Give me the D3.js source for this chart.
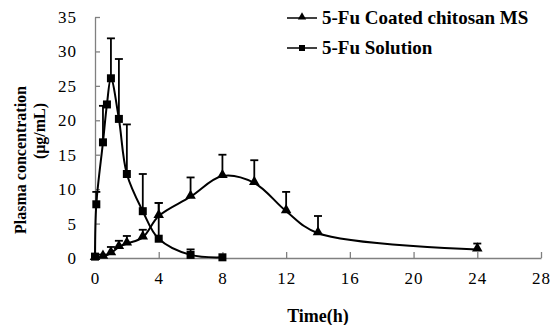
<!DOCTYPE html>
<html>
<head>
<meta charset="utf-8">
<script src="https://cdn.jsdelivr.net/npm/d3@7"></script>
<style>
  body { margin: 0; background: #fff; }
  text { font-family: "Liberation Serif", "Times New Roman", serif; }
</style>
</head>
<body>
<div id="chart"></div>
<script>
var width = 552,
    height = 325;

var margin = {top: 17, right: 11, bottom: 67, left: 95};

// 5-Fu Coated chitosan MS (triangles)
var msTime  = [0, 0.5, 1, 1.5, 2, 3, 4, 6, 8, 10, 12, 14, 24];
var msConc  = [0, 0.2, 0.7, 1.6, 2.1, 3.0, 6.1, 8.9, 11.9, 10.9, 6.8, 3.6, 1.25];
var msErr   = [0, 0.3, 0.9, 0.9, 1.1, 1.1, 1.9, 2.8, 3.1, 3.3, 2.8, 2.5, 0.85];

// 5-Fu Solution (squares)
var solTime = [0, 0.083, 0.5, 0.75, 1, 1.5, 2, 3, 4, 6, 8];
var solConc = [0.2, 7.8, 16.8, 22.3, 26.1, 20.2, 12.2, 6.8, 2.8, 0.45, 0.1];
var solErr  = [0, 1.8, 5.3, 0, 5.8, 8.7, 7.2, 5.4, 5.2, 0.8, 0];

var xTicks = [0, 4, 8, 12, 16, 20, 24, 28];
var yTicks = [0, 5, 10, 15, 20, 25, 30, 35];

var legendLabels = ["5-Fu Coated chitosan MS", "5-Fu Solution"];

var svg = d3.select("#chart")
  .append("svg")
  .attr("width", width)
  .attr("height", height);

var w = width - margin.left - margin.right,
    h = height - margin.top - margin.bottom;

var g = svg.append("g")
  .attr("transform", "translate(" + margin.left + "," + margin.top + ")");

var x = d3.scaleLinear().domain([0, 28]).range([0, w]);
var y = d3.scaleLinear().domain([0, 35]).range([h, 0]);

// axes, ticks inside
var xAxis = g.append("g")
  .attr("transform", "translate(0," + h + ")")
  .call(d3.axisBottom(x).tickValues(xTicks).tickSizeInner(-6).tickSizeOuter(0).tickPadding(14));
var yAxis = g.append("g")
  .call(d3.axisLeft(y).tickValues(yTicks).tickSizeInner(-5).tickSizeOuter(0).tickPadding(18));

[xAxis, yAxis].forEach(function(a){
  a.select(".domain").attr("stroke", "#808080").attr("stroke-width", 1.3);
  a.selectAll(".tick line").attr("stroke", "#808080").attr("stroke-width", 1.3);
  a.selectAll(".tick text")
    .attr("fill", "#000")
    .style("font-size", "17px")
    .style("letter-spacing", "1px")
    .style("font-family", "'Liberation Serif', serif");
});

function makeSeries(t, c, e){
  return t.map(function(d, i){ return {t: d, c: c[i], e: e[i]}; });
}
var msData = makeSeries(msTime, msConc, msErr);
var solData = makeSeries(solTime, solConc, solErr);

var line = d3.line()
  .x(function(d){ return x(d.t); })
  .y(function(d){ return y(d.c); })
  .curve(d3.curveCatmullRom.alpha(0.5));

// upper error bars only
function drawErr(data){
  var eb = g.append("g");
  data.filter(function(d){ return d.e > 0; }).forEach(function(d){
    eb.append("line")
      .attr("x1", x(d.t)).attr("x2", x(d.t))
      .attr("y1", y(d.c)).attr("y2", y(d.c + d.e))
      .attr("stroke", "#000").attr("stroke-width", 1.8);
    eb.append("line")
      .attr("x1", x(d.t) - 4).attr("x2", x(d.t) + 4)
      .attr("y1", y(d.c + d.e)).attr("y2", y(d.c + d.e))
      .attr("stroke", "#000").attr("stroke-width", 1.8);
  });
}

drawErr(msData);
drawErr(solData);

g.append("path").datum(msData)
  .attr("d", line).attr("fill", "none").attr("stroke", "#000").attr("stroke-width", 2);
g.append("path").datum(solData)
  .attr("d", line).attr("fill", "none").attr("stroke", "#000").attr("stroke-width", 2);

var tri = d3.symbol().type(d3.symbolTriangle).size(48);
var sq = d3.symbol().type(d3.symbolSquare).size(64);

g.selectAll(".tri").data(msData).enter().append("path")
  .attr("class", "tri")
  .attr("d", tri)
  .attr("transform", function(d){ return "translate(" + x(d.t) + "," + (y(d.c) - 1) + ")"; })
  .attr("fill", "#000");

g.selectAll(".sq").data(solData).enter().append("path")
  .attr("class", "sq")
  .attr("d", sq)
  .attr("transform", function(d){ return "translate(" + x(d.t) + "," + y(d.c) + ")"; })
  .attr("fill", "#000");

// axis titles
svg.append("text")
  .attr("x", margin.left + w / 2).attr("y", 322)
  .attr("text-anchor", "middle")
  .style("font-size", "18px").style("font-weight", "bold")
  .text("Time(h)");

svg.append("text")
  .attr("transform", "translate(26,160) rotate(-90)")
  .attr("text-anchor", "middle")
  .style("font-size", "16px").style("font-weight", "bold")
  .text("Plasma concentration");
svg.append("text")
  .attr("transform", "translate(45,131) rotate(-90)")
  .attr("text-anchor", "middle")
  .style("font-size", "16px").style("font-weight", "bold")
  .text("(\u03bcg/mL)");

// legend
var legend = svg.append("g");
legendLabels.forEach(function(lbl, i){
  var ly = 18 + i * 30;
  legend.append("line")
    .attr("x1", 287).attr("x2", 317).attr("y1", ly).attr("y2", ly)
    .attr("stroke", "#000").attr("stroke-width", 1.5);
  legend.append("path")
    .attr("d", i === 0 ? d3.symbol().type(d3.symbolTriangle).size(30)() : d3.symbol().type(d3.symbolSquare).size(36)())
    .attr("transform", "translate(302," + (ly - (i === 0 ? 1 : 0)) + ")")
    .attr("fill", "#000");
  legend.append("text")
    .attr("x", 322).attr("y", ly + 6)
    .style("font-size", "19px").style("font-weight", "bold")
    .text(lbl);
});
</script>
</body>
</html>
